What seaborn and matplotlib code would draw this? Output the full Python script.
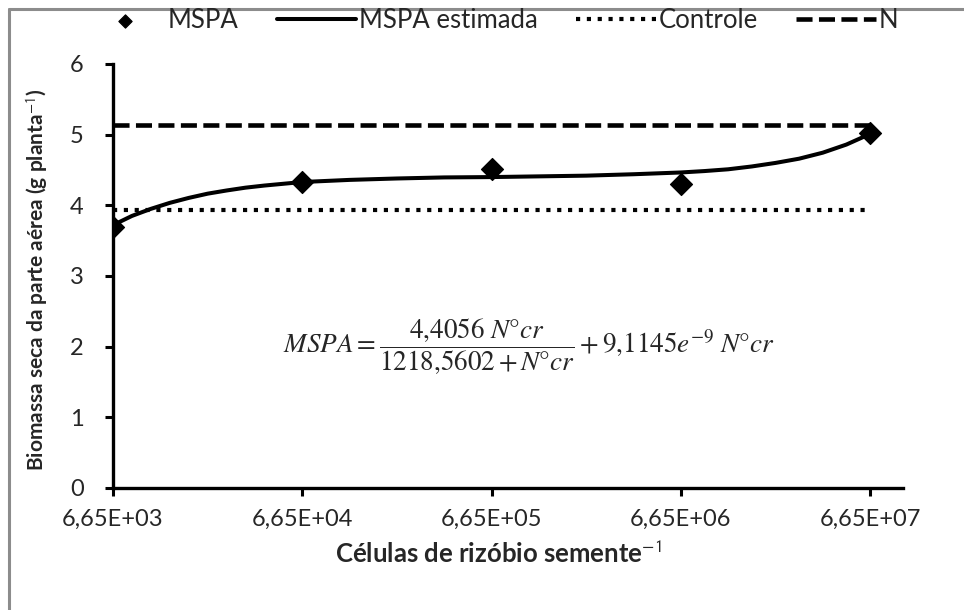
import matplotlib
matplotlib.use("Agg")
import matplotlib.pyplot as plt
import seaborn as sns
import pandas as pd
from matplotlib.lines import Line2D

# ---- data ----
tick_labels = ["6,65E+03", "6,65E+04", "6,65E+05", "6,65E+06", "6,65E+07"]
obs_pos = [0, 1, 2, 3, 4]
mspa_obs = [3.70, 4.33, 4.52, 4.30, 5.02]

curve_pos = [0, 0.1, 0.2, 0.3, 0.4, 0.5, 0.6, 0.7, 0.8, 0.9, 1, 1.25, 1.5, 1.75,
             2, 2.25, 2.5, 2.75, 3, 3.125, 3.25, 3.375, 3.5, 3.625, 3.75, 3.875, 4]
mspa_est = [3.72, 3.85, 3.95, 4.035, 4.105, 4.165, 4.21, 4.25, 4.28, 4.305, 4.33,
            4.36, 4.38, 4.395, 4.40, 4.41, 4.42, 4.44, 4.465, 4.485, 4.51, 4.55,
            4.60, 4.66, 4.745, 4.86, 5.01]

controle = 3.93
n_level = 5.13
ref_span = [0, 4]

sns.set_style("white")
plt.rcParams["font.family"] = ["Lato", "DejaVu Sans"]
plt.rcParams["mathtext.fontset"] = "stix"

fig = plt.figure(figsize=(9.64, 6.10), dpi=100)
ax = fig.add_axes([113 / 964, 122 / 610, (903 - 113) / 964, (488 - 64) / 610])

df_ref = pd.DataFrame({"x": ref_span + ref_span,
                       "y": [controle, controle, n_level, n_level],
                       "g": ["Controle", "Controle", "N", "N"]})

sns.lineplot(x=curve_pos, y=mspa_est, ax=ax, color="black", lw=2.9,
             label="MSPA estimada", zorder=3)
sns.lineplot(data=df_ref[df_ref.g == "Controle"], x="x", y="y", ax=ax,
             color="black", lw=3.0, label="Controle", zorder=2)
sns.lineplot(data=df_ref[df_ref.g == "N"], x="x", y="y", ax=ax,
             color="black", lw=3.3, label="N", zorder=2)
ax.lines[1].set_dashes((1, 1.6))
ax.lines[2].set_dashes((3.5, 1.4))
sns.scatterplot(x=obs_pos, y=mspa_obs, ax=ax, marker="D", s=125, color="black",
                edgecolor="black", label="MSPA", zorder=4)

ax.set_xlim(0, 4.174)
ax.set_ylim(0, 6)
ax.set_xticks(obs_pos)
ax.set_xticklabels(tick_labels)
ax.set_yticks(range(0, 7))
for s in ["top", "right"]:
    ax.spines[s].set_visible(False)
for s in ["left", "bottom"]:
    ax.spines[s].set_linewidth(2.4)
    ax.spines[s].set_color("black")
ax.tick_params(axis="both", direction="out", length=6, width=2.2, color="black",
               labelsize=17, labelcolor="#262626", left=True, bottom=True)
ax.tick_params(axis="x", pad=9)
ax.tick_params(axis="y", pad=15)

ax.set_xlabel("Células de rizóbio semente$^{\\mathsf{-1}}$", fontsize=18.5,
              fontweight="bold")
ax.set_ylabel("Biomassa seca da parte aérea (g planta$^{\\mathsf{-1}}$)", fontsize=15,
              fontweight="bold")
ax.xaxis.set_label_coords(0.488, -0.125)
ax.yaxis.set_label_coords(-0.08, 0.49)

ax.text(2.2, 2.0,
        r"$MSPA=\dfrac{4{,}4056\ N°cr}{1218{,}5602+N°cr}+9{,}1145e^{-9}\ N°cr$",
        fontsize=19.5, ha="center", va="center")

h, l = ax.get_legend_handles_labels()
order = ["MSPA", "MSPA estimada", "Controle", "N"]
hd = dict(zip(l, h))
leg = fig.legend([hd[k] for k in order], order, loc="center",
                 bbox_to_anchor=(0.51, 1 - 20 / 610), ncol=4, frameon=False,
                 fontsize=18.5, handlelength=3.1, handletextpad=0.1,
                 columnspacing=1.5, markerscale=0.6)
for t in leg.get_texts():
    t.set_color("#262626")
if ax.get_legend():
    ax.get_legend().remove()

# chart-area border (left and top visible)
fig.add_artist(Line2D([9 / 964, 9 / 964], [0, 1 - 9 / 610], transform=fig.transFigure,
                      color="#8c8c8c", lw=2.2))
fig.add_artist(Line2D([9 / 964, 1], [1 - 9 / 610, 1 - 9 / 610], transform=fig.transFigure,
                      color="#8c8c8c", lw=2.2))

fig.savefig("out.png", dpi=100)
